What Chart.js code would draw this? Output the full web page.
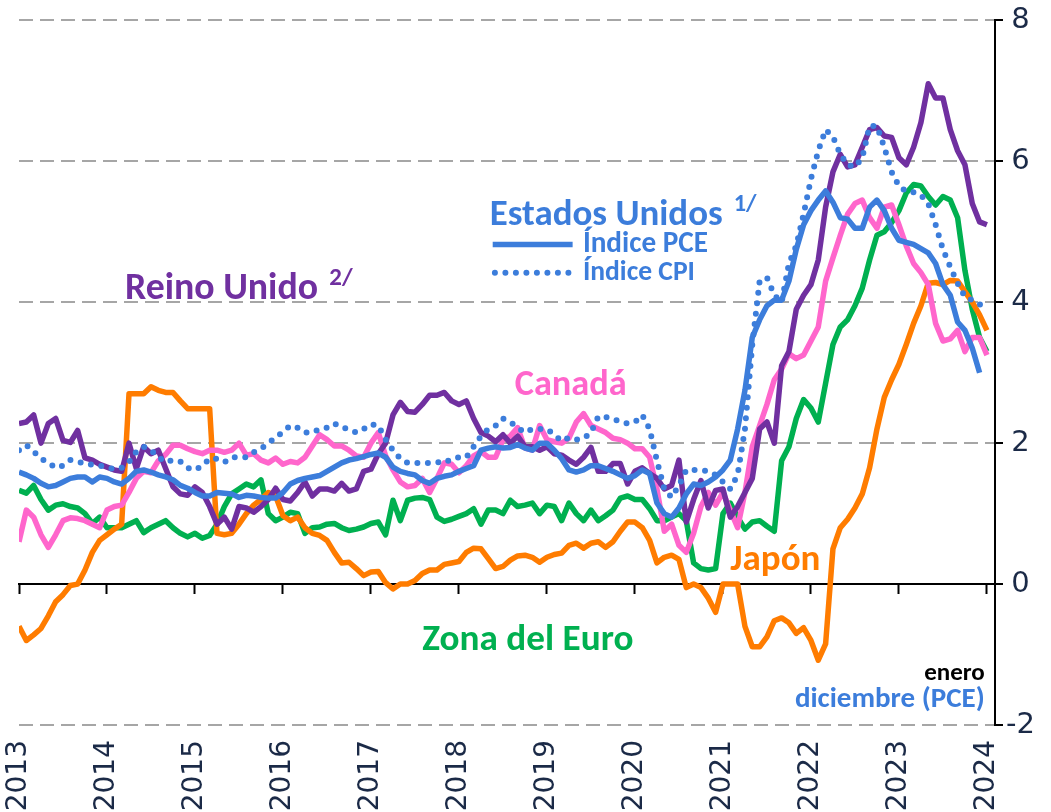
<!DOCTYPE html>
<html><head><meta charset="utf-8">
<script src="https://cdn.jsdelivr.net/npm/chart.js@4.4.1/dist/chart.umd.min.js"></script>
<style>html,body{margin:0;padding:0;background:#fff;}#wrap{width:1051px;height:812px;position:relative;}</style>
</head><body><div id="wrap"><canvas id="c" width="1051" height="812"></canvas></div>
<script>
// ---- data (monthly, Jan 2013 = index 0) ----
const yearLabels = ['2013','2014','2015','2016','2017','2018','2019','2020','2021','2022','2023','2024'];
const yTicks = [-2, 0, 2, 4, 6, 8];

const usPCE = [1.59,1.55,1.5,1.43,1.38,1.4,1.45,1.5,1.52,1.52,1.45,1.52,
 1.5,1.45,1.42,1.5,1.6,1.62,1.59,1.55,1.52,1.48,1.4,1.36,
 1.3,1.25,1.25,1.3,1.29,1.28,1.23,1.26,1.25,1.23,1.22,1.22,
 1.3,1.42,1.47,1.5,1.52,1.54,1.6,1.66,1.72,1.76,1.78,1.81,
 1.84,1.86,1.8,1.66,1.6,1.57,1.55,1.47,1.43,1.5,1.53,1.55,
 1.6,1.64,1.68,1.9,1.93,1.95,1.93,1.94,1.98,1.93,1.9,2.0,
 2.0,1.9,1.78,1.62,1.59,1.62,1.68,1.68,1.64,1.6,1.55,1.5,
 1.54,1.62,1.57,1.15,1.0,0.95,1.08,1.28,1.42,1.4,1.45,1.52,
 1.62,1.76,2.2,2.75,3.5,3.75,3.95,4.03,4.03,4.3,4.75,5.1,
 5.3,5.45,5.58,5.42,5.2,5.18,5.05,5.05,5.35,5.45,5.3,5.05,
 4.88,4.85,4.82,4.76,4.7,4.55,4.25,4.1,3.72,3.6,3.35,3.0];

const usCPI = [1.9,1.97,1.88,1.78,1.72,1.65,1.68,1.76,1.73,1.72,1.69,1.68,
 1.66,1.63,1.65,1.73,1.88,1.95,1.9,1.8,1.73,1.76,1.74,1.65,
 1.62,1.68,1.78,1.78,1.73,1.8,1.8,1.8,1.87,1.92,2.0,2.08,
 2.16,2.25,2.22,2.15,2.15,2.2,2.22,2.28,2.22,2.2,2.15,2.2,
 2.27,2.25,2.05,1.9,1.78,1.72,1.72,1.72,1.72,1.73,1.72,1.78,
 1.8,1.8,1.95,2.1,2.2,2.25,2.35,2.3,2.22,2.15,2.2,2.2,
 2.2,2.12,2.03,2.08,2.05,2.07,2.15,2.38,2.37,2.35,2.3,2.28,
 2.3,2.4,2.2,1.75,1.35,1.23,1.4,1.62,1.62,1.62,1.6,1.55,
 1.45,1.35,1.55,2.2,3.4,4.3,4.35,4.1,4.0,4.55,4.8,5.25,
 5.75,6.15,6.45,6.35,6.1,5.95,5.92,6.05,6.5,6.5,6.2,5.85,
 5.65,5.57,5.56,5.52,5.4,5.1,4.75,4.5,4.27,4.08,4.03,3.97,3.9];

const ukCore = [2.28,2.3,2.4,2.0,2.28,2.35,2.04,2.01,2.18,1.79,1.76,1.7,
 1.66,1.62,1.6,2.0,1.64,1.95,1.85,1.9,1.64,1.38,1.28,1.26,
 1.38,1.3,1.1,0.85,0.95,0.78,1.1,1.08,1.02,1.1,1.2,1.36,
 1.2,1.18,1.3,1.45,1.25,1.35,1.35,1.32,1.43,1.32,1.35,1.6,
 1.63,1.85,2.0,2.4,2.58,2.45,2.44,2.55,2.68,2.68,2.72,2.6,
 2.55,2.6,2.35,2.15,2.1,2.02,2.12,2.0,2.1,1.95,1.95,1.9,
 1.95,1.85,1.83,1.76,1.7,1.8,1.94,1.6,1.6,1.71,1.71,1.42,
 1.6,1.65,1.57,1.5,1.35,1.4,1.76,0.88,1.2,1.47,1.08,1.33,
 1.35,0.95,1.1,1.3,1.5,2.2,2.3,2.0,3.1,3.3,3.9,4.1,
 4.25,4.6,5.35,5.85,6.1,5.92,5.95,6.2,6.45,6.48,6.36,6.34,
 6.05,5.95,6.2,6.55,7.1,6.9,6.9,6.45,6.15,5.95,5.4,5.14,5.1];

const canadaCore = [0.6,1.05,0.95,0.7,0.52,0.7,0.9,0.94,0.93,0.9,0.85,0.8,
 1.05,1.1,1.12,1.3,1.5,1.6,1.58,1.75,1.84,1.97,1.97,1.92,
 1.88,1.85,1.9,1.9,1.87,1.9,2.0,1.83,1.85,1.76,1.72,1.79,
 1.7,1.74,1.72,1.8,1.96,2.12,2.05,1.96,1.96,1.9,1.82,1.8,
 2.0,2.15,1.82,1.62,1.45,1.38,1.4,1.5,1.3,1.5,1.72,1.7,
 1.58,1.68,1.82,1.88,1.8,1.8,2.05,2.1,2.22,1.93,1.9,2.25,
 2.05,2.02,2.0,2.07,2.3,2.42,2.25,2.2,2.15,2.07,2.05,2.0,
 1.92,1.92,1.8,1.35,0.75,0.85,0.55,0.45,0.72,1.1,1.3,1.12,
 1.3,1.05,0.8,1.3,1.95,2.25,2.55,2.9,3.05,3.27,3.2,3.25,
 3.45,3.65,4.3,4.63,4.95,5.25,5.4,5.45,5.2,5.05,5.35,5.38,
 5.1,4.8,4.55,4.42,4.25,3.7,3.45,3.48,3.6,3.3,3.5,3.5,3.25];

const euroCore = [1.33,1.29,1.4,1.2,1.05,1.12,1.14,1.1,1.08,1.0,0.86,0.95,
 0.8,0.8,0.8,0.85,0.9,0.73,0.8,0.85,0.9,0.8,0.72,0.67,
 0.72,0.65,0.69,0.85,1.1,1.28,1.35,1.42,1.38,1.48,1.0,0.9,
 0.95,1.02,1.0,0.72,0.8,0.81,0.85,0.86,0.8,0.76,0.78,0.81,
 0.86,0.88,0.7,1.19,0.9,1.19,1.22,1.23,1.2,0.95,0.89,0.92,
 0.96,1.0,1.07,0.85,1.05,1.05,1.0,1.19,1.1,1.12,1.15,1.0,
 1.12,1.1,0.9,1.15,1.0,0.9,1.05,0.9,0.97,1.05,1.22,1.25,
 1.2,1.2,1.07,0.9,0.9,0.95,1.0,0.9,0.3,0.22,0.2,0.22,
 1.0,1.15,0.95,0.78,0.88,0.9,0.82,0.75,1.75,1.95,2.35,2.62,
 2.5,2.3,2.85,3.4,3.65,3.75,3.95,4.2,4.6,4.95,5.0,5.13,
 5.3,5.55,5.67,5.65,5.5,5.38,5.5,5.45,5.2,4.45,3.9,3.5,3.3];

const japanCore = [-0.6,-0.8,-0.72,-0.63,-0.45,-0.25,-0.15,-0.02,0.0,0.2,0.45,0.62,
 0.7,0.78,0.85,2.7,2.7,2.7,2.8,2.75,2.72,2.72,2.6,2.49,
 2.49,2.49,2.49,0.72,0.7,0.72,0.85,1.0,1.12,1.2,1.3,1.25,
 0.97,0.9,0.95,0.8,0.72,0.69,0.62,0.45,0.3,0.31,0.22,0.12,
 0.17,0.18,0.02,-0.07,0.0,0.0,0.05,0.15,0.2,0.2,0.28,0.3,
 0.32,0.45,0.51,0.5,0.36,0.22,0.25,0.34,0.4,0.41,0.38,0.31,
 0.38,0.42,0.44,0.55,0.58,0.51,0.58,0.6,0.52,0.6,0.75,0.88,
 0.88,0.8,0.62,0.3,0.38,0.41,0.35,-0.05,0.0,-0.05,-0.2,-0.4,
 0.0,0.0,0.0,-0.6,-0.89,-0.89,-0.75,-0.52,-0.48,-0.55,-0.7,-0.62,
 -0.8,-1.08,-0.85,0.5,0.8,0.92,1.08,1.28,1.65,2.2,2.65,2.9,
 3.12,3.4,3.7,3.95,4.27,4.28,4.25,4.31,4.3,4.15,4.0,3.82,3.6];

// ---- styles ----
const PURPLE = '#7030A0', BLUE = '#3C7DDB', PINK = '#FF66CC', GREEN = '#00B050', ORANGE = '#FF7C00';
const NAVY = '#1B2A47', GRID = '#A6A6A6';
const TXT_FONT = 'Carlito, Lato, "Open Sans", sans-serif';
const AX_FONT = '"DejaVu Sans", Verdana, sans-serif';
const X_MAX = 133.1;

const toPts = arr => arr.map((v, i) => ({x: i, y: v}));
const lineDs = (label, arr, color, extra) => Object.assign({
  label, data: toPts(arr), borderColor: color, backgroundColor: color,
  borderWidth: 5.5, pointRadius: 0, tension: 0, fill: false,
  borderJoinStyle: 'round', borderCapStyle: 'butt'
}, extra || {});

const yearTicks = s => { s.ticks = yearLabels.map((_, i) => ({value: i * 12})); };

const notes = [
  {text: 'Reino Unido', sup: '2/', color: PURPLE, x: 14.45, y: 4.05, w: 193},
  {text: 'Estados Unidos', sup: '1/', color: BLUE, x: 64.2, y: 5.1, w: 233},
  {text: 'Índice PCE', color: BLUE, x: 76.9, y: 4.71, w: 125},
  {text: 'Índice CPI', color: BLUE, x: 76.9, y: 4.31, w: 112},
  {text: 'Canadá', color: PINK, x: 67.6, y: 2.68, w: 112},
  {text: 'Japón', color: ORANGE, x: 97.0, y: 0.2, w: 90},
  {text: 'Zona del Euro', color: GREEN, x: 55.0, y: -0.94, w: 211},
  {text: 'enero', color: '#000', x: 131.7, y: -1.36, size: 25, align: 'right'},
  {text: 'diciembre (PCE)', color: BLUE, x: 131.7, y: -1.74, w: 190, align: 'right'}
];
const legendKeys = [
  {x0: 64.6, x1: 75.5, y: 4.82, dotted: false},
  {x0: 64.9, x1: 75.5, y: 4.42, dotted: true}
];

const notePlugin = {
  id: 'notes',
  afterDatasetsDraw(chart) {
    const {ctx} = chart, xs = chart.scales.x, ys = chart.scales.y;
    ctx.save();
    legendKeys.forEach(k => {
      ctx.beginPath();
      ctx.strokeStyle = BLUE;
      if (k.dotted) { ctx.lineWidth = 6; ctx.lineCap = 'round'; ctx.setLineDash([0, 10.5]); }
      else { ctx.lineWidth = 5.5; ctx.lineCap = 'butt'; ctx.setLineDash([]); }
      ctx.moveTo(xs.getPixelForValue(k.x0), ys.getPixelForValue(k.y));
      ctx.lineTo(xs.getPixelForValue(k.x1), ys.getPixelForValue(k.y));
      ctx.stroke();
    });
    ctx.setLineDash([]);
    ctx.textBaseline = 'alphabetic';
    notes.forEach(n => {
      let size = n.size;
      if (!size) {
        ctx.font = `bold 30px ${TXT_FONT}`;
        size = 30 * n.w / ctx.measureText(n.text).width;
      }
      ctx.font = `bold ${size.toFixed(1)}px ${TXT_FONT}`;
      ctx.fillStyle = n.color;
      ctx.textAlign = n.align || 'left';
      const px = xs.getPixelForValue(n.x), py = ys.getPixelForValue(n.y);
      ctx.fillText(n.text, px, py);
      if (n.sup) {
        const w = ctx.measureText(n.text).width;
        ctx.font = `bold ${(size * 0.66).toFixed(1)}px ${TXT_FONT}`;
        ctx.textAlign = 'left';
        ctx.fillText(n.sup, px + w + size * 0.3, py - size * 0.36);
      }
    });
    ctx.restore();
  }
};

new Chart(document.getElementById('c'), {
  type: 'line',
  data: {
    datasets: [
      lineDs('Estados Unidos – Índice PCE', usPCE, BLUE),
      lineDs('Estados Unidos – Índice CPI', usCPI, BLUE, {borderWidth: 6, borderDash: [0, 10.5], borderCapStyle: 'round'}),
      lineDs('Reino Unido', ukCore, PURPLE),
      lineDs('Canadá', canadaCore, PINK),
      lineDs('Japón', japanCore, ORANGE),
      lineDs('Zona del Euro', euroCore, GREEN)
    ]
  },
  options: {
    responsive: false,
    animation: false,
    devicePixelRatio: 1,
    layout: {padding: {left: 19, top: 19, right: 0, bottom: 0}},
    plugins: {legend: {display: false}, tooltip: {enabled: false}},
    scales: {
      x: {
        type: 'linear', min: 0, max: X_MAX, position: 'bottom',
        grid: {display: false, drawTicks: false},
        border: {display: false},
        afterBuildTicks: yearTicks,
        afterFit: s => { s.height = 87; },
        ticks: {
          autoSkip: false, minRotation: 90, maxRotation: 90, padding: 15,
          color: NAVY, font: {family: AX_FONT, size: 28},
          callback: v => yearLabels[Math.round(v / 12)]
        }
      },
      x0: {
        type: 'linear', min: 0, max: X_MAX, position: {y: 0},
        grid: {drawOnChartArea: false, drawTicks: true, tickLength: 9, tickColor: '#000', tickWidth: 2},
        border: {display: true, color: '#000', width: 2},
        afterBuildTicks: yearTicks,
        ticks: {display: false}
      },
      y: {
        type: 'linear', min: -2, max: 8, position: 'right',
        afterBuildTicks: s => { s.ticks = yTicks.map(v => ({value: v})); },
        afterFit: s => { s.width = 56; },
        grid: {
          color: c => (c.tick && c.tick.value === 0) ? 'rgba(0,0,0,0)' : GRID,
          lineWidth: 2, drawTicks: true, tickLength: 8, tickColor: '#000', tickWidth: 2
        },
        border: {display: true, color: '#000', width: 2, dash: [14, 7]},
        ticks: {
          padding: 3, crossAlign: 'center', color: NAVY,
          font: {family: AX_FONT, size: 29}
        }
      }
    }
  },
  plugins: [notePlugin]
});
</script>
</body></html>
